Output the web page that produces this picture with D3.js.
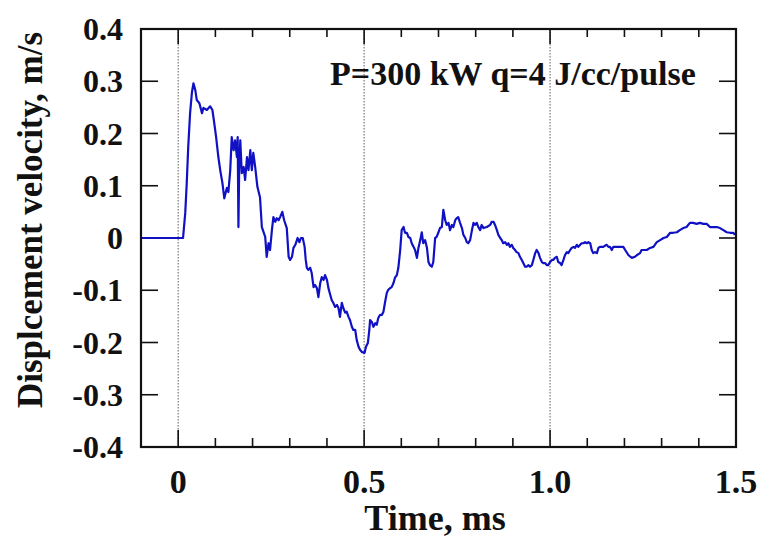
<!DOCTYPE html>
<html>
<head>
<meta charset="utf-8">
<script src="https://cdn.jsdelivr.net/npm/d3@7"></script>
<style>
  html, body { margin: 0; padding: 0; background: #fff; }
  svg { display: block; }
  text { font-family: "Liberation Serif", "Times New Roman", serif; font-weight: bold; fill: #111; }
</style>
</head>
<body>
<svg id="chart" width="761" height="539"></svg>
<script>
// ---- data ----
const time = [
  -0.1, 0.013, 0.019, 0.023, 0.027, 0.032, 0.037, 0.041, 0.046, 0.050, 0.057, 0.064, 0.068, 0.077, 0.086, 0.092, 0.097,
  0.102, 0.108, 0.113, 0.119, 0.124, 0.131, 0.135, 0.140, 0.144, 0.149, 0.153, 0.158, 0.160, 0.162, 0.164, 0.167,
  0.171, 0.176, 0.180, 0.185, 0.189, 0.194, 0.198, 0.202, 0.207, 0.213, 0.220, 0.225, 0.234, 0.238, 0.243, 0.247,
  0.252, 0.256, 0.261, 0.265, 0.270, 0.274, 0.280, 0.285, 0.292, 0.297, 0.301, 0.306, 0.310, 0.315, 0.321, 0.326,
  0.330, 0.335, 0.340, 0.343, 0.346, 0.350, 0.355, 0.359, 0.364, 0.368, 0.373, 0.377, 0.382, 0.386, 0.391, 0.395,
  0.400, 0.404, 0.409, 0.413, 0.417, 0.422, 0.427, 0.431, 0.435, 0.440, 0.444, 0.449, 0.453, 0.458, 0.462, 0.467,
  0.471, 0.476, 0.480, 0.485, 0.489, 0.494, 0.501, 0.505, 0.510, 0.514, 0.516, 0.521, 0.525, 0.530, 0.534, 0.538,
  0.543, 0.548, 0.552, 0.556, 0.561, 0.565, 0.570, 0.574, 0.579, 0.583, 0.588, 0.592, 0.597, 0.601, 0.606, 0.610,
  0.615, 0.619, 0.624, 0.628, 0.633, 0.637, 0.642, 0.646, 0.651, 0.655, 0.659, 0.664, 0.669, 0.673, 0.677, 0.682,
  0.686, 0.691, 0.695, 0.700, 0.704, 0.709, 0.713, 0.718, 0.722, 0.727, 0.731, 0.736, 0.740, 0.745, 0.749, 0.753,
  0.758, 0.763, 0.767, 0.772, 0.776, 0.780, 0.785, 0.790, 0.794, 0.798, 0.803, 0.807, 0.812, 0.816, 0.821, 0.830,
  0.839, 0.843, 0.848, 0.852, 0.857, 0.861, 0.866, 0.870, 0.874, 0.879, 0.884, 0.888, 0.892, 0.897, 0.901, 0.906,
  0.910, 0.915, 0.919, 0.924, 0.928, 0.933, 0.937, 0.942, 0.946, 0.951, 0.955, 0.960, 0.964, 0.969, 0.973, 0.978,
  0.982, 0.987, 0.991, 0.995, 1.000, 1.005, 1.009, 1.013, 1.018, 1.022, 1.027, 1.031, 1.036, 1.040, 1.045, 1.049,
  1.054, 1.058, 1.063, 1.067, 1.072, 1.076, 1.081, 1.085, 1.090, 1.094, 1.099, 1.103, 1.108, 1.112, 1.116, 1.121,
  1.126, 1.130, 1.134, 1.143, 1.152, 1.157, 1.161, 1.166, 1.170, 1.179, 1.188, 1.197, 1.202, 1.211, 1.220, 1.228,
  1.233, 1.242, 1.246, 1.255, 1.260, 1.269, 1.278, 1.287, 1.296, 1.305, 1.314, 1.323, 1.331, 1.341, 1.349, 1.358,
  1.367, 1.376, 1.385, 1.394, 1.403, 1.412, 1.421, 1.430, 1.439, 1.448, 1.457, 1.466, 1.475, 1.484, 1.493, 1.497
];
const velocity = [
  0, 0, 0.048, 0.105, 0.174, 0.239, 0.279, 0.296, 0.283, 0.264, 0.258, 0.239, 0.249, 0.245, 0.252, 0.245, 0.220,
  0.193, 0.155, 0.130, 0.105, 0.076, 0.096, 0.088, 0.130, 0.193, 0.168, 0.187, 0.155, 0.193, 0.021, 0.130, 0.187,
  0.124, 0.136, 0.111, 0.155, 0.130, 0.168, 0.130, 0.163, 0.136, 0.098, 0.078, 0.021, 0.002, -0.036, -0.010, -0.023,
  0.015, 0.040, 0.031, 0.038, 0.034, 0.040, 0.050, 0.034, 0.019, -0.036, -0.042, -0.036, -0.019, -0.013, 0.000, -0.008,
  0.000, 0.000, -0.017, -0.042, -0.057, -0.061, -0.057, -0.067, -0.094, -0.090, -0.096, -0.113, -0.086, -0.075, -0.080, -0.071,
  -0.080, -0.096, -0.109, -0.119, -0.124, -0.132, -0.128, -0.134, -0.151, -0.124, -0.134, -0.143, -0.141, -0.151, -0.157, -0.170,
  -0.176, -0.176, -0.195, -0.208, -0.214, -0.218, -0.220, -0.208, -0.201, -0.176, -0.157, -0.161, -0.170, -0.163, -0.166, -0.153,
  -0.147, -0.147, -0.141, -0.124, -0.105, -0.099, -0.096, -0.094, -0.086, -0.076, -0.071, -0.057, -0.023, 0.015, 0.021, 0.010,
  0.010, 0.002, 0.000, -0.010, -0.017, -0.023, -0.038, -0.019, -0.004, 0.011, -0.010, -0.004, -0.019, -0.046, -0.052, -0.055,
  -0.046, 0.000, 0.002, 0.011, 0.019, 0.021, 0.054, 0.034, 0.025, 0.029, 0.015, 0.025, 0.021, 0.034, 0.038, 0.040,
  0.029, 0.019, 0.006, 0.000, -0.008, -0.010, -0.004, 0.015, 0.029, 0.025, 0.029, 0.021, 0.015, 0.025, 0.019, 0.021,
  0.025, 0.031, 0.031, 0.025, 0.015, 0.006, 0.000, -0.004, -0.010, -0.008, -0.013, -0.010, -0.017, -0.013, -0.019, -0.023,
  -0.027, -0.029, -0.036, -0.042, -0.048, -0.055, -0.055, -0.052, -0.055, -0.052, -0.042, -0.029, -0.023, -0.029, -0.038, -0.046,
  -0.048, -0.048, -0.052, -0.052, -0.046, -0.042, -0.042, -0.038, -0.036, -0.046, -0.048, -0.052, -0.042, -0.033, -0.027, -0.029,
  -0.023, -0.019, -0.017, -0.019, -0.013, -0.017, -0.013, -0.010, -0.010, -0.008, -0.010, -0.008, -0.010, -0.023, -0.029, -0.027,
  -0.029, -0.019, -0.017, -0.017, -0.013, -0.017, -0.017, -0.023, -0.017, -0.017, -0.017, -0.017, -0.023, -0.033, -0.038, -0.036,
  -0.033, -0.029, -0.023, -0.023, -0.023, -0.019, -0.017, -0.008, -0.004, 0.000, 0.002, 0.010, 0.010, 0.011, 0.015, 0.019,
  0.021, 0.029, 0.029, 0.027, 0.029, 0.027, 0.027, 0.021, 0.021, 0.021, 0.019, 0.015, 0.011, 0.010, 0.010, 0.006
];
const xTickValues = [0, 0.5, 1.0, 1.5];
const xTickLabels = ["0", "0.5", "1.0", "1.5"];
const yTickValues = [-0.4, -0.3, -0.2, -0.1, 0, 0.1, 0.2, 0.3, 0.4];
const yTickLabels = ["-0.4", "-0.3", "-0.2", "-0.1", "0", "0.1", "0.2", "0.3", "0.4"];
const gridTimes = [0, 0.5, 1.0];
const xTitle = "Time, ms";
const yTitle = "Displcement velocity, m/s";
const annotation = "P=300 kW q=4 J/cc/pulse";

// ---- layout ----
const svg = d3.select("#chart");
const L = 141, R = 736, T = 29, B = 447;
const x = d3.scaleLinear().domain([-0.1, 1.5]).range([L, R]);
const y = d3.scaleLinear().domain([-0.4, 0.4]).range([B, T]);

// grid lines (dotted)
svg.append("g").selectAll("line").data(gridTimes).join("line")
  .attr("x1", d => x(d)).attr("x2", d => x(d))
  .attr("y1", T).attr("y2", B)
  .attr("stroke", "#777").attr("stroke-width", 1.2).attr("stroke-dasharray", "1.5,1.5");

// minor x ticks every 0.1
const xMinor = d3.range(-1, 16).map(i => i / 10);
const isMajor = d => Math.abs(d * 2 - Math.round(d * 2)) < 1e-6;

const ax = svg.append("g").attr("stroke", "#111").attr("stroke-width", 1.6);
ax.selectAll("line.xb").data(xMinor).join("line").attr("class", "xb")
  .attr("x1", d => x(d)).attr("x2", d => x(d))
  .attr("y1", B).attr("y2", d => B - (isMajor(d) ? 17 : 9));
ax.selectAll("line.xt").data(xMinor).join("line").attr("class", "xt")
  .attr("x1", d => x(d)).attr("x2", d => x(d))
  .attr("y1", T).attr("y2", d => T + (isMajor(d) ? 15 : 8));
ax.selectAll("line.yl").data(yTickValues).join("line").attr("class", "yl")
  .attr("x1", L).attr("x2", L + 17)
  .attr("y1", d => y(d)).attr("y2", d => y(d));
ax.selectAll("line.yr").data(yTickValues).join("line").attr("class", "yr")
  .attr("x1", R).attr("x2", R - 17)
  .attr("y1", d => y(d)).attr("y2", d => y(d));

// data line
const pts = time.map((t, i) => [t, velocity[i]]);
const line = d3.line().x(d => x(d[0])).y(d => y(d[1]));
svg.append("path").datum(pts)
  .attr("d", line)
  .attr("fill", "none")
  .attr("stroke", "#1010c4")
  .attr("stroke-width", 2.2)
  .attr("stroke-linejoin", "round");

// frame
svg.append("rect").attr("x", L).attr("y", T).attr("width", R - L).attr("height", B - T)
  .attr("fill", "none").attr("stroke", "#111").attr("stroke-width", 2.2);

// tick labels
svg.append("g").selectAll("text").data(xTickValues).join("text")
  .attr("x", d => x(d)).attr("y", 493)
  .attr("text-anchor", "middle").attr("font-size", 34)
  .text((d, i) => xTickLabels[i]);
svg.append("g").selectAll("text").data(yTickValues).join("text")
  .attr("x", 123).attr("y", d => y(d))
  .attr("dy", "0.35em")
  .attr("text-anchor", "end").attr("font-size", 32)
  .text((d, i) => yTickLabels[i]);

// titles
svg.append("text").attr("x", 435).attr("y", 530)
  .attr("text-anchor", "middle").attr("font-size", 36).text(xTitle);
svg.append("text").attr("transform", "translate(42,220) rotate(-90)")
  .attr("text-anchor", "middle").attr("font-size", 35).text(yTitle);

// annotation
svg.append("text").attr("x", 330).attr("y", 85)
  .attr("font-size", 34).text(annotation);
</script>
</body>
</html>
